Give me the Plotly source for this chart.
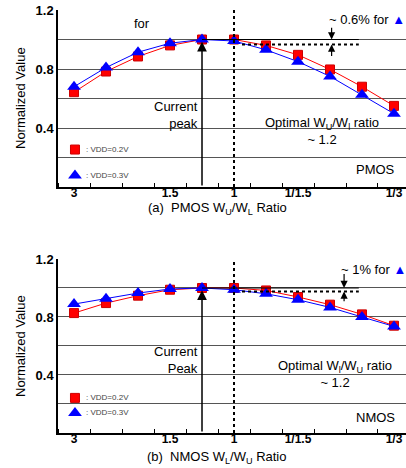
import plotly.graph_objects as go

# ---- data ----
positions = list(range(11))
tick_pos = [0, 3, 5, 7, 10]
tick_labels = ["3", "1.5", "1", "1/1.5", "1/3"]

pmos_vdd02 = [0.643, 0.783, 0.885, 0.960, 1.000, 1.000, 0.960, 0.896, 0.797, 0.680, 0.550]
pmos_vdd03 = [0.680, 0.810, 0.914, 0.975, 1.000, 0.990, 0.930, 0.850, 0.750, 0.625, 0.497]
nmos_vdd02 = [0.827, 0.896, 0.947, 0.988, 1.000, 1.000, 0.983, 0.938, 0.885, 0.818, 0.740]
nmos_vdd03 = [0.889, 0.926, 0.965, 0.993, 1.000, 0.988, 0.960, 0.919, 0.866, 0.800, 0.735]

RED = "#ff0000"
BLUE = "#0000ff"
FONT = "Liberation Sans, Arial, sans-serif"

fig = go.Figure()

def add_series(xa, ya, y2, y3):
    fig.add_trace(go.Scatter(x=positions, y=y2, mode="lines+markers", xaxis=xa, yaxis=ya,
                             line=dict(color=RED, width=1),
                             marker=dict(symbol="square", size=9, color=RED, line=dict(color="#cc0000", width=1)),
                             showlegend=False))
    fig.add_trace(go.Scatter(x=positions, y=y3, mode="lines+markers", xaxis=xa, yaxis=ya,
                             line=dict(color=BLUE, width=1),
                             marker=dict(symbol="triangle-up", size=12, color=BLUE),
                             showlegend=False))

add_series("x", "y", pmos_vdd02, pmos_vdd03)
add_series("x2", "y2", nmos_vdd02, nmos_vdd03)

xcommon = dict(range=[-0.5, 10.375], tickmode="array", tickvals=tick_pos, ticktext=tick_labels,
               ticks="", showgrid=False, zeroline=False, showline=True, linecolor="black", linewidth=2,
               ticklabelstandoff=-6, automargin=False,
               tickfont=dict(family=FONT, size=12, color="black", weight="bold"),
               minor=dict(tickmode="linear", tick0=0.5, dtick=1, ticks="inside", ticklen=4,
                          tickcolor="black", tickwidth=1, showgrid=False))
ycommon = dict(range=[0, 1.2], tickmode="array", tickvals=[0.2, 0.4, 0.6, 0.8, 1.0, 1.2],
               ticktext=["", "0.4", "", "0.8", "", "1.2"], ticks="", showgrid=True,
               gridcolor="#555555", gridwidth=1, zeroline=False, showline=True,
               linecolor="black", linewidth=1.5, automargin=False,
               tickfont=dict(family=FONT, size=13, color="black", weight="bold"))

fig.update_layout(
    width=406, height=468, margin=dict(l=0, r=0, t=0, b=0, autoexpand=False),
    paper_bgcolor="white", plot_bgcolor="white",
    xaxis=dict(domain=[0.1429, 1], anchor="y", **xcommon),
    yaxis=dict(domain=[0.6004, 0.9786], anchor="x", **ycommon),
    xaxis2=dict(domain=[0.1429, 1], anchor="y2", **xcommon),
    yaxis2=dict(domain=[0.0748, 0.4466], anchor="x2", **ycommon),
    font=dict(family=FONT, color="black"),
)

def decorate(xa, ya, dot_y, arr_x, arr_top, arr_bot, note_text, note_x, note_y,
             peak_text, peak_y, opt_text, opt_x, opt_y, name, name_y, leg_y1, leg_y2):
    # vertical dotted line at ratio 1
    fig.add_shape(type="line", xref=xa, yref=ya, x0=5, x1=5, y0=0, y1=1.2,
                  line=dict(color="black", width=2, dash="dot"))
    # solid reference at 1.0
    fig.add_shape(type="line", xref=xa, yref=ya, x0=4, x1=8.9, y0=1.0, y1=1.0,
                  line=dict(color="black", width=1.2))
    # dotted level
    fig.add_shape(type="line", xref=xa, yref=ya, x0=5.25, x1=8.9, y0=dot_y, y1=dot_y,
                  line=dict(color="black", width=2, dash="dot"))
    # current peak arrow
    fig.add_annotation(x=4, y=0.985, ax=4, ay=0, xref=xa, yref=ya, axref=xa, ayref=ya,
                       text="", showarrow=True, arrowhead=2, arrowsize=1.3, arrowwidth=1.5,
                       arrowcolor="black")
    # small arrows
    fig.add_annotation(x=arr_x, y=1.0, ax=arr_x, ay=arr_top, xref=xa, yref=ya, axref=xa, ayref=ya,
                       text="", showarrow=True, arrowhead=2, arrowsize=1.2, arrowwidth=1.2,
                       arrowcolor="black")
    fig.add_annotation(x=arr_x, y=dot_y, ax=arr_x, ay=arr_bot, xref=xa, yref=ya, axref=xa, ayref=ya,
                       text="", showarrow=True, arrowhead=2, arrowsize=1.2, arrowwidth=1.2,
                       arrowcolor="black")
    fig.add_annotation(x=note_x, y=note_y, xref=xa, yref=ya, xanchor="left", yanchor="middle",
                       text=note_text + "<span style='color:#0000ff;font-size:13px'>▲</span>",
                       showarrow=False, font=dict(size=13))
    fig.add_annotation(x=3.95, y=peak_y, xref=xa, yref=ya, xanchor="right", yanchor="middle",
                       align="right", text=peak_text, showarrow=False, font=dict(size=13))
    fig.add_annotation(x=opt_x, y=opt_y, xref=xa, yref=ya, xanchor="center", yanchor="middle",
                       align="center", text=opt_text, showarrow=False, font=dict(size=13))
    fig.add_annotation(x=10.1, y=name_y, xref=xa, yref=ya, xanchor="right", yanchor="middle",
                       text=name, showarrow=False, font=dict(size=13))
    # legend
    fig.add_trace(go.Scatter(x=[0.03], y=[leg_y1], xaxis=xa, yaxis=ya,
                             mode="markers", showlegend=False, hoverinfo="skip",
                             marker=dict(symbol="square", size=9, color=RED, line=dict(color="#cc0000", width=1))))
    fig.add_trace(go.Scatter(x=[0.03], y=[leg_y2], xaxis=xa, yaxis=ya,
                             mode="markers", showlegend=False, hoverinfo="skip",
                             marker=dict(symbol="triangle-up", size=12, color=BLUE)))
    fig.add_annotation(x=0.3, y=leg_y1, xref=xa, yref=ya, xanchor="left", yanchor="middle",
                       text=": VDD=0.2V", showarrow=False, font=dict(size=8, color="#444444"))
    fig.add_annotation(x=0.3, y=leg_y2, xref=xa, yref=ya, xanchor="left", yanchor="middle",
                       text=": VDD=0.3V", showarrow=False, font=dict(size=8, color="#444444"))

decorate("x", "y", 0.966, 8.05, 1.09, 0.878, "~ 0.6% for ", 7.9, 1.136,
         "Current<br>peak", 0.485, "Optimal W<sub>U</sub>/W<sub>l</sub> ratio<br>~ 1.2", 7.75, 0.38,
         "PMOS", 0.119, 0.254, 0.078)
decorate("x2", "y2", 0.976, 8.44, 1.106, 0.898, "~ 1% for ", 8.28, 1.126,
         "Current<br>Peak", 0.505, "Optimal W<sub>l</sub>/W<sub>U</sub> ratio<br>~ 1.2", 8.16, 0.404,
         "NMOS", 0.104, 0.242, 0.138)

fig.add_annotation(x=2.125, y=1.108, xref="x", yref="y", text="for", showarrow=False, font=dict(size=13))

# axis titles
fig.add_annotation(x=0.535, y=1 - 208 / 468, xref="paper", yref="paper", xanchor="center", yanchor="middle",
                   text="(a)  PMOS W<sub>U</sub>/W<sub>L</sub> Ratio", showarrow=False, font=dict(size=13))
fig.add_annotation(x=0.535, y=1 - 457 / 468, xref="paper", yref="paper", xanchor="center", yanchor="middle",
                   text="(b)  NMOS W<sub>L</sub>/W<sub>U</sub> Ratio", showarrow=False, font=dict(size=13))
fig.add_annotation(x=20 / 406, y=1 - 98 / 468, xref="paper", yref="paper", textangle=-90,
                   xanchor="center", yanchor="middle", text="Normalized Value", showarrow=False,
                   font=dict(size=13))
fig.add_annotation(x=20 / 406, y=1 - 346 / 468, xref="paper", yref="paper", textangle=-90,
                   xanchor="center", yanchor="middle", text="Normalized Value", showarrow=False,
                   font=dict(size=13))

fig.write_html("out.html", config={"displayModeBar": False},
               post_script="document.body.style.margin='0';")
